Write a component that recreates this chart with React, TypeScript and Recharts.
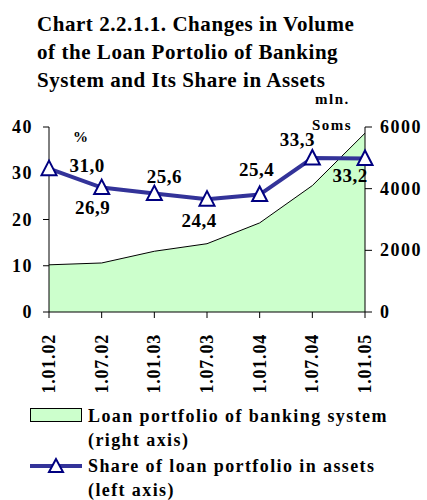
import React from 'react';
import { ComposedChart, Area, Line, XAxis, YAxis, LabelList } from 'recharts';

const categories = ['1.01.02', '1.07.02', '1.01.03', '1.07.03', '1.01.04', '1.07.04', '1.01.05'];
const loanPortfolio = [1530, 1590, 1970, 2215, 2890, 4100, 5800];
const loanShare = [31.0, 26.9, 25.6, 24.4, 25.4, 33.3, 33.2];
const leftTicks = [0, 10, 20, 30, 40];
const rightTicks = [0, 2000, 4000, 6000];

const data = categories.map((c, i) => ({ cat: c, loan: loanPortfolio[i], share: loanShare[i] }));

const labelOffsets = [
  [38, -3], [-9, 20], [10, -17], [-8, 21], [-3, -25], [-15, -18], [-15, 17],
];

const FONT = '"Liberation Serif", "Times New Roman", serif';

const Triangle = (props: any) => {
  const { cx, cy } = props;
  if (cx == null || cy == null) return null;
  return (
    <polygon
      points={`${cx},${cy - 8} ${cx - 7.5},${cy + 6.5} ${cx + 7.5},${cy + 6.5}`}
      fill="#ffffff"
      stroke="#000080"
      strokeWidth={2}
    />
  );
};

const ShareLabel = (props: any) => {
  const { x, y, value, index } = props;
  const [dx, dy] = labelOffsets[index] || [0, 0];
  return (
    <text
      x={x + dx}
      y={y + dy}
      textAnchor="middle"
      dominantBaseline="central"
      fontFamily={FONT}
      fontWeight="bold"
      fontSize={19}
      letterSpacing={0.5}
      fill="#000"
    >
      {Number(value).toFixed(1).replace('.', ',')}
    </text>
  );
};

const XTick = (props: any) => {
  const { x, y, payload } = props;
  return (
    <text
      x={0}
      y={0}
      transform={`translate(${x + 6},${y + 14}) rotate(-90)`}
      textAnchor="end"
      fontFamily={FONT}
      fontWeight="bold"
      fontSize={18}
      letterSpacing={0.8}
      fill="#000"
    >
      {payload.value}
    </text>
  );
};

const YTick = (props: any) => {
  const { x, y, payload, textAnchor } = props;
  return (
    <text
      x={x}
      y={y}
      textAnchor={textAnchor}
      dominantBaseline="central"
      fontFamily={FONT}
      fontWeight="bold"
      fontSize={18}
      letterSpacing={1.5}
      fill="#000"
    >
      {payload.value}
    </text>
  );
};

const textStyle: React.CSSProperties = {
  position: 'absolute',
  fontFamily: FONT,
  fontWeight: 'bold',
  color: '#000',
  whiteSpace: 'nowrap',
  lineHeight: 1,
};

export default function App() {
  return (
    <div style={{ position: 'absolute', left: 0, top: 0, width: 427, height: 500, background: '#fff' }}>
      <div style={{ ...textStyle, left: 37, top: 10, fontSize: 21, lineHeight: '28px', letterSpacing: 0.55 }}>
        Chart 2.2.1.1. Changes in Volume<br />
        of the Loan Portolio of Banking<br />
        System and Its Share in Assets
      </div>
      <ComposedChart
        width={427}
        height={500}
        data={data}
        margin={{ top: 127, right: 0, bottom: 98, left: 0 }}
      >
        <XAxis
          dataKey="cat"
          scale="point"
          padding={{ left: 0, right: 0 }}
          height={90}
          tick={<XTick />}
          tickLine={{ stroke: '#000' }}
          axisLine={{ stroke: '#000' }}
          tickSize={6}
          interval={0}
        />
        <YAxis
          yAxisId="left"
          orientation="left"
          width={49}
          domain={[0, 40]}
          ticks={leftTicks}
          tickSize={6}
          tickMargin={10}
          axisLine={{ stroke: '#000' }}
          tickLine={{ stroke: '#000' }}
          tick={<YTick />}
        />
        <YAxis
          yAxisId="right"
          orientation="right"
          width={62}
          domain={[0, 6000]}
          ticks={rightTicks}
          tickSize={7}
          tickMargin={8}
          axisLine={{ stroke: '#000' }}
          tickLine={{ stroke: '#000' }}
          tick={<YTick />}
        />
        <Area
          yAxisId="right"
          type="linear"
          dataKey="loan"
          fill="#ccffcc"
          fillOpacity={1}
          stroke="#000"
          strokeWidth={1}
          isAnimationActive={false}
        />
        <Line
          yAxisId="left"
          type="linear"
          dataKey="share"
          stroke="#333399"
          strokeWidth={4}
          dot={<Triangle />}
          activeDot={false}
          isAnimationActive={false}
        >
          <LabelList dataKey="share" content={<ShareLabel />} />
        </Line>
      </ComposedChart>
      <div style={{ ...textStyle, left: 73, top: 130, fontSize: 15 }}>%</div>
      <div style={{ ...textStyle, left: 315, top: 92, fontSize: 15, letterSpacing: 1.5 }}>mln.</div>
      <div style={{ ...textStyle, left: 312, top: 118, fontSize: 15, letterSpacing: 1.5 }}>Soms</div>

      <div style={{ position: 'absolute', left: 30, top: 408, width: 50, height: 12, background: '#ccffcc', border: '1px solid #000' }} />
      <div style={{ ...textStyle, left: 88, top: 404, fontSize: 18, lineHeight: '24px', letterSpacing: 1.4 }}>
        Loan portfolio of banking system<br />(right axis)
      </div>
      <svg style={{ position: 'absolute', left: 28, top: 456 }} width={56} height={20}>
        <line x1={2} y1={10} x2={54} y2={10} stroke="#333399" strokeWidth={4} />
        <polygon points="28,3 21,16 35,16" fill="#fff" stroke="#000080" strokeWidth={2} />
      </svg>
      <div style={{ ...textStyle, left: 88, top: 454, fontSize: 18, lineHeight: '24px', letterSpacing: 1.4 }}>
        Share of loan portfolio in assets<br />(left axis)
      </div>
    </div>
  );
}
